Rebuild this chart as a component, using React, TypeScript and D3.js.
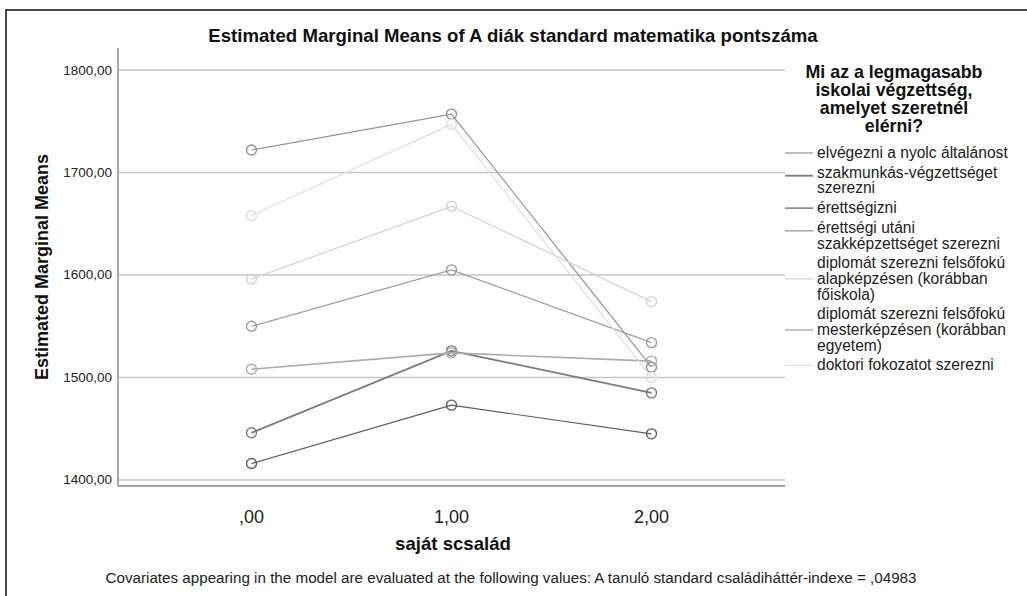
import React from "react";
import * as d3 from "d3";

const categories = [",00", "1,00", "2,00"];
const seriesNames = [
  "elvégezni a nyolc általánost",
  "szakmunkás-végzettséget szerezni",
  "érettségizni",
  "érettségi utáni szakképzettséget szerezni",
  "diplomát szerezni felsőfokú alapképzésen (korábban főiskola)",
  "diplomát szerezni felsőfokú mesterképzésen (korábban egyetem)",
  "doktori fokozatot szerezni",
];
const legendLines = [
  ["elvégezni a nyolc általánost"],
  ["szakmunkás-végzettséget", "szerezni"],
  ["érettségizni"],
  ["érettségi utáni", "szakképzettséget szerezni"],
  ["diplomát szerezni felsőfokú", "alapképzésen (korábban", "főiskola)"],
  ["diplomát szerezni felsőfokú", "mesterképzésen (korábban", "egyetem)"],
  ["doktori fokozatot szerezni"],
];
const elvegezni = [1722, 1757, 1510];
const szakmunkas = [1446, 1526, 1485];
const erettsegizni = [1416, 1473, 1445];
const erettsegiUtani = [1508, 1524, 1516];
const alapkepzes = [1596, 1667, 1574];
const mesterkepzes = [1550, 1605, 1534];
const doktori = [1658, 1747, 1500];
const seriesValues = [elvegezni, szakmunkas, erettsegizni, erettsegiUtani, alapkepzes, mesterkepzes, doktori];
const seriesColors = ["#939393", "#7a7a7a", "#5e5e5e", "#ababab", "#d2d2d2", "#9c9c9c", "#dfdfdf"];
const seriesWidths = [1.2, 1.8, 1.2, 1.6, 1.2, 1.2, 1.2];
const yTicks = [1400, 1500, 1600, 1700, 1800];
const yTickFormat = (v: number) => v.toFixed(2).replace(".", ",");

const FONT = "'Liberation Sans', Arial, sans-serif";

export default function App() {
  const W = 1027, H = 596;
  const left = 118, right = 785, top = 48, bottom = 486;
  const x = d3.scalePoint<string>().domain(categories).range([left, right]).padding(0.6675);
  const y = d3.scaleLinear().domain([1394.1, 1821.5]).range([bottom, top]);
  const line = d3.line<number>().x((_, i) => x(categories[i]) as number).y((d) => y(d));

  const lh = 15.7, gap = 4;
  let cy = 153;
  const legendItems = legendLines.map((lines, i) => {
    const start = cy;
    cy += lines.length * lh + gap;
    const lineY = lines.length === 1 ? start : lines.length === 2 ? start + 3 : start + lh;
    return { lines, start, lineY, i };
  });

  return (
    <svg width={W} height={H} style={{ position: "absolute", left: 0, top: 0, background: "#fff" }} fontFamily={FONT}>
      <rect x={0} y={0} width={W} height={H} fill="#fff" />
      <rect x={6} y={10} width={1100} height={700} fill="none" stroke="#111" strokeWidth={1.5} />
      <text x={513} y={42} textAnchor="middle" fontSize={18.6} fontWeight="bold" fill="#111">
        Estimated Marginal Means of A diák standard matematika pontszáma
      </text>
      {yTicks.map((t) => (
        <g key={t}>
          <line x1={left} x2={right} y1={y(t)} y2={y(t)} stroke="#c6c6c6" strokeWidth={1.5} />
          <text x={112} y={y(t) + 4.5} textAnchor="end" fontSize={13.5} fill="#222">{yTickFormat(t)}</text>
        </g>
      ))}
      <line x1={left} x2={left} y1={top} y2={bottom} stroke="#a0a0a0" strokeWidth={1.8} />
      <line x1={left} x2={right} y1={bottom} y2={bottom} stroke="#a0a0a0" strokeWidth={1.8} />
      {categories.map((c) => (
        <text key={c} x={x(c)} y={523} textAnchor="middle" fontSize={18} fill="#222">{c}</text>
      ))}
      <text x={453} y={550} textAnchor="middle" fontSize={18.6} fontWeight="bold" fill="#111">saját scsalád</text>
      <text transform={`translate(48,${(top + bottom) / 2}) rotate(-90)`} textAnchor="middle" fontSize={18} fontWeight="bold" fill="#111">
        Estimated Marginal Means
      </text>
      {seriesValues.map((vals, i) => (
        <g key={i}>
          <path d={line(vals) || ""} fill="none" stroke={seriesColors[i]} strokeWidth={seriesWidths[i]} />
          {vals.map((v, j) => (
            <circle key={j} cx={x(categories[j])} cy={y(v)} r={5} fill="none" stroke={seriesColors[i]} strokeWidth={1.4} />
          ))}
        </g>
      ))}
      {["Mi az a legmagasabb", "iskolai végzettség,", "amelyet szeretnél", "elérni?"].map((t, i) => (
        <text key={t} x={894} y={78 + i * 18} textAnchor="middle" fontSize={17.8} fontWeight="bold" fill="#111">{t}</text>
      ))}
      {legendItems.map((it) => (
        <g key={it.i}>
          <line x1={785} x2={813} y1={it.lineY} y2={it.lineY} stroke={seriesColors[it.i]} strokeWidth={seriesWidths[it.i]} />
          {it.lines.map((t, k) => (
            <text key={k} x={817} y={it.start + k * lh + 5} fontSize={15.6} fill="#222">{t}</text>
          ))}
        </g>
      ))}
      <text x={511} y={583} textAnchor="middle" fontSize={15.2} fill="#222">
        Covariates appearing in the model are evaluated at the following values: A tanuló standard családiháttér-indexe = ,04983
      </text>
    </svg>
  );
}
